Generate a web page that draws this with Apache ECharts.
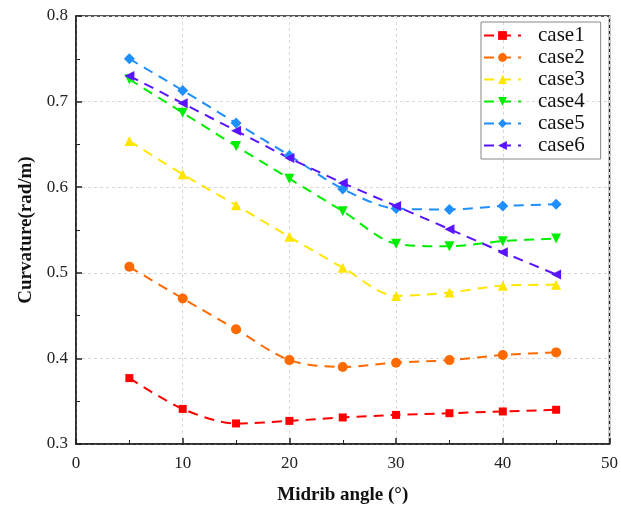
<!DOCTYPE html>
<html lang="en">
<head>
    <meta charset="UTF-8">
    <title>Curvature vs midrib angle</title>
    <script src="https://cdn.jsdelivr.net/npm/echarts@6/dist/echarts.min.js"></script>
    <style>
        body { margin: 0; background: #fff; }
        #chart { width: 621px; height: 511px; }
    </style>
</head>
<body>
<div id="chart"></div>
<script>
    // midrib angle (deg)
    var angles = [5, 10, 15, 20, 25, 30, 35, 40, 45];
    var case1 = [0.377, 0.341, 0.324, 0.327, 0.331, 0.334, 0.336, 0.338, 0.340];
    var case2 = [0.507, 0.470, 0.434, 0.398, 0.390, 0.395, 0.398, 0.404, 0.407];
    var case3 = [0.654, 0.615, 0.579, 0.542, 0.506, 0.473, 0.477, 0.485, 0.486];
    var case4 = [0.726, 0.687, 0.648, 0.610, 0.572, 0.534, 0.531, 0.537, 0.540];
    var case5 = [0.750, 0.713, 0.675, 0.637, 0.598, 0.575, 0.574, 0.578, 0.580];
    var case6 = [0.730, 0.698, 0.666, 0.634, 0.605, 0.578, 0.551, 0.524, 0.498];

    var names = ['case1', 'case2', 'case3', 'case4', 'case5', 'case6'];
    var values = [case1, case2, case3, case4, case5, case6];
    var colors = ['#ff0000', '#ff6a00', '#ffe600', '#00ee00', '#1e8fff', '#5a14ff'];
    var symbols = ['rect', 'circle', 'triangle', 'triangle', 'diamond', 'triangle'];
    var rotates = [0, 0, 0, 180, 0, 90];

    var serif = '"Liberation Serif", "DejaVu Serif", serif';

    var series = names.map(function (n, i) {
        return {
            name: n,
            type: 'line',
            smooth: 0.3,
            data: angles.map(function (a, j) { return [a, values[i][j]]; }),
            symbol: symbols[i],
            symbolRotate: rotates[i],
            symbolSize: symbols[i] === 'rect' ? 8 : (symbols[i] === 'diamond' ? 11 : 10),
            itemStyle: { color: colors[i] },
            lineStyle: { color: colors[i], width: 2, type: [10, 7] }
        };
    });

    var myChart = echarts.init(document.getElementById('chart'));
    myChart.setOption({
        animation: false,
        color: colors,
        grid: {
            left: 76, right: 10, top: 16, bottom: 67,
            show: true, borderColor: '#222', borderWidth: 1.5, backgroundColor: 'transparent'
        },
        legend: {
            left: 481, top: 22,
            orient: 'vertical',
            itemWidth: 37, itemHeight: 11, itemGap: 1,
            borderColor: '#888', borderWidth: 1,
            padding: [3, 16, 3, 2],
            textStyle: { fontFamily: serif, fontSize: 21, color: '#111', padding: [0, 0, 0, 12] },
            data: names
        },
        xAxis: {
            type: 'value',
            min: 0, max: 50, interval: 10,
            name: 'Midrib angle (°)',
            nameLocation: 'middle',
            nameGap: 42,
            nameTextStyle: { fontFamily: serif, fontSize: 19, fontWeight: 'bold', color: '#111' },
            axisLine: { lineStyle: { color: '#222', width: 1.5 } },
            axisTick: { inside: true, length: 6, lineStyle: { color: '#222', width: 1.5 } },
            minorTick: { show: true, splitNumber: 2, length: 4, lineStyle: { color: '#222' } },
            axisLabel: { fontFamily: serif, fontSize: 17, color: '#222', margin: 11 },
            splitLine: { show: true, lineStyle: { color: '#d8d8d8', type: [3, 3] } }
        },
        yAxis: {
            type: 'value',
            min: 0.3, max: 0.8, interval: 0.1,
            name: 'Curvature(rad/m)',
            nameLocation: 'middle',
            nameGap: 39,
            nameTextStyle: { fontFamily: serif, fontSize: 19, fontWeight: 'bold', color: '#111' },
            axisLine: { show: true, lineStyle: { color: '#222', width: 1.5 } },
            axisTick: { inside: true, length: 6, lineStyle: { color: '#222', width: 1.5 } },
            minorTick: { show: true, splitNumber: 2, length: 4, lineStyle: { color: '#222' } },
            axisLabel: {
                fontFamily: serif, fontSize: 17, color: '#222', margin: 8,
                formatter: function (v) { return v.toFixed(1); }
            },
            splitLine: { show: true, lineStyle: { color: '#d8d8d8', type: [3, 3] } }
        },
        series: series
    });
</script>
</body>
</html>
